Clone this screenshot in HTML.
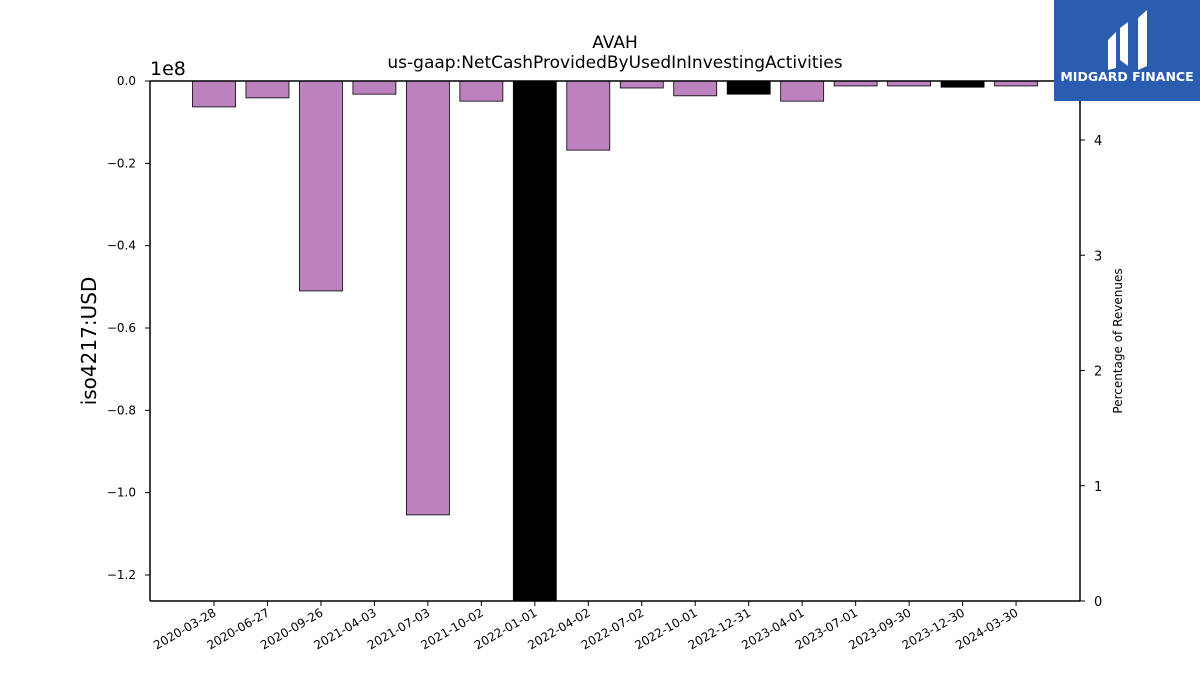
<!DOCTYPE html>
<html><head><meta charset="utf-8"><style>
body{margin:0;background:#fff;}
svg text{font-family:"DejaVu Sans","Liberation Sans",sans-serif;}
</style></head><body>
<svg id="chart" width="1200" height="675" xmlns="http://www.w3.org/2000/svg">
<text x="615" y="48" font-size="17" text-anchor="middle">AVAH</text>
<text x="615" y="68" font-size="17" text-anchor="middle">us-gaap:NetCashProvidedByUsedInInvestingActivities</text>
<text x="150" y="75" font-size="19">1e8</text>
<text transform="translate(96,341) rotate(-90)" font-size="20" text-anchor="middle">iso4217:USD</text>
<text transform="translate(1122,341) rotate(-90)" font-size="12" text-anchor="middle">Percentage of Revenues</text>
<g id="bars"></g>
<g id="axes"></g>
<g>
<rect x="1054" y="0" width="146" height="101" fill="#2a5caf"/>
<path d="M1108 40 L1116 32 L1116 68 L1108 70 Z M1120 28 L1128 22 L1128 66 L1120 60 Z M1138 18 L1147 10 L1147 66 L1138 70 Z" fill="#fff"/>
<text x="1127" y="81" font-size="12.5" font-weight="bold" fill="#fff" text-anchor="middle">MIDGARD FINANCE</text>
</g>
</svg>
<script>
const categories=["2020-03-28","2020-06-27","2020-09-26","2021-04-03","2021-07-03","2021-10-02","2022-01-01","2022-04-02","2022-07-02","2022-10-01","2022-12-31","2023-04-01","2023-07-01","2023-09-30","2023-12-30","2024-03-30"];
const values=[-0.063,-0.041,-0.51,-0.032,-1.054,-0.049,-1.35,-0.168,-0.017,-0.036,-0.032,-0.049,-0.012,-0.012,-0.015,-0.012];
const highlighted=[0,0,0,0,0,0,1,0,0,0,1,0,0,0,1,0];
const leftTicks=[0,-0.2,-0.4,-0.6,-0.8,-1.0,-1.2];
const leftTickLabels=["0.0","\u22120.2","\u22120.4","\u22120.6","\u22120.8","\u22121.0","\u22121.2"];
const rightTicks=[0,1,2,3,4];
const NS="http://www.w3.org/2000/svg";
const L=150,R=1080,T=81,B=601;
const yMin=-1.2632,yMax=0;
const y=v=>T+(yMax-v)/(yMax-yMin)*(B-T);
const yr=v=>B-v/4.512*(B-T);
const step=(R-L)/(categories.length+1.38);
const x=i=>L+64+i*53.47;
const bw=43;
function mk(tag,attrs,parent){const e=document.createElementNS(NS,tag);for(const k in attrs)e.setAttribute(k,attrs[k]);parent.appendChild(e);return e;}
const bars=document.getElementById('bars'),axes=document.getElementById('axes');
categories.forEach((c,i)=>{
  const v=Math.max(values[i],yMin);
  const r=mk('rect',{x:x(i)-bw/2,y:y(0),width:bw,height:y(v)-y(0),fill:highlighted[i]?'#000':'#bc82bd',stroke:'#000','stroke-width':0.8},bars);
  
  
  const t=mk('line',{x1:x(i),x2:x(i),y1:B,y2:B+5,stroke:'#000'},axes);
  
  
  const lb=mk('text',{transform:`translate(${x(i)+3},${B+14}) rotate(-30)`,'font-size':12,'text-anchor':'end'},axes);
  lb.textContent=c;
  
  
});
leftTicks.forEach((v,i)=>{
  const t=mk('line',{x1:L-5,x2:L,y1:y(v),y2:y(v),stroke:'#000'},axes);
  
  
  const lb=mk('text',{x:L-14,y:y(v)+4,'font-size':12,'text-anchor':'end'},axes);
  lb.textContent=leftTickLabels[i];
  
  
});
rightTicks.forEach(v=>{
  const t=mk('line',{x1:R,x2:R+5,y1:yr(v),y2:yr(v),stroke:'#000'},axes);
  
  
  const lb=mk('text',{x:R+14,y:yr(v)+5,'font-size':13},axes);
  lb.textContent=String(v);
  
  
});
[[L,T,L,B],[R,T,R,B],[L,B,R,B],[L,T,R,T]].forEach(s=>{
  const l=mk('line',{x1:s[0],y1:s[1],x2:s[2],y2:s[3],stroke:'#000','stroke-width':1.5},axes);
  
  
});
</script>
</body></html>
